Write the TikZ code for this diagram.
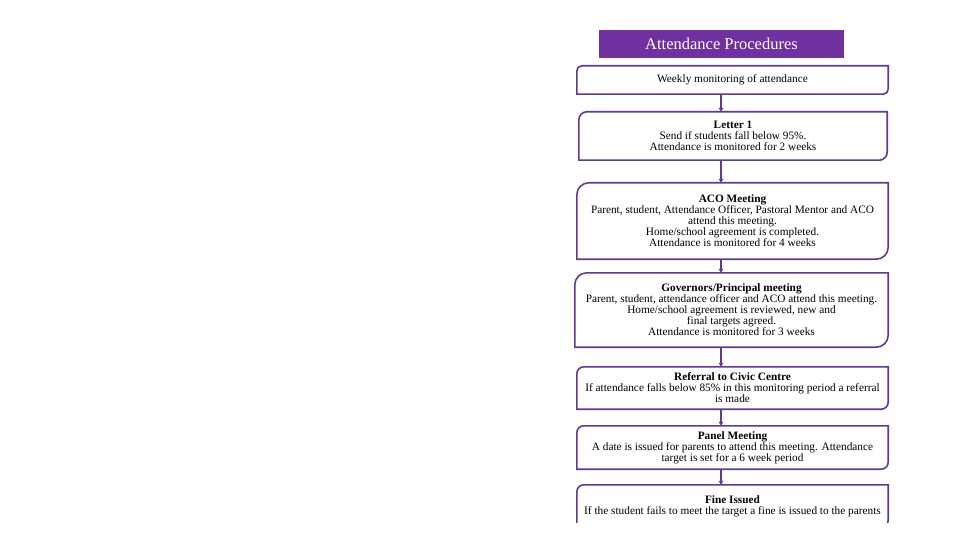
\documentclass[tikz,border=0pt]{standalone}
\usepackage{fontspec}
\setmainfont{Liberation Serif}
\usetikzlibrary{arrows.meta,positioning}
\definecolor{titlePurple}{RGB}{112,48,160}
\definecolor{linePurple}{RGB}{96,58,140}
\newcommand{\drawDiagBox}[2]{
    \draw[boxline] (#1.south west) -- ([yshift=-#2]#1.north west) arc[start angle=180,end angle=90,radius=#2] -- (#1.north east) -- ([yshift=#2]#1.south east) arc[start angle=0,end angle=-90,radius=#2] -- cycle
}

\begin{document}
\begin{tikzpicture}[x=1pt,y=-1pt,
    stepbox/.style={minimum width=311pt, align=center, inner sep=0pt, font=\fontsize{11.3}{11}\selectfont},
    boxline/.style={linePurple, line width=1.6pt},
    arr/.style={linePurple, line width=1.1pt, -{Triangle[length=4pt,width=4.5pt]}}]
            \useasboundingbox (0,0) rectangle (960,540);

            \node[fill=titlePurple, minimum width=245pt, minimum height=28pt, inner sep=0pt, text=white, font=\fontsize{16.5}{18}\selectfont] (title) at (721.5,44) {Attendance Procedures};

            \node[stepbox, minimum height=28pt] (weekly) at (732.5,80) {Weekly monitoring of attendance};
            \node[stepbox, minimum width=308pt, minimum height=48pt] (letter) at (733,136) {\textbf{Letter 1}\\Send if students fall below 95\%.\\Attendance is monitored for 2 weeks};
            \node[stepbox, minimum height=76pt] (aco) at (732.5,221) {\textbf{ACO Meeting}\\Parent, student, Attendance Officer, Pastoral Mentor and ACO\\attend this meeting.\\Home/school agreement is completed.\\Attendance is monitored for 4 weeks};
            \node[stepbox, minimum width=313pt, minimum height=74pt] (governors) at (731.5,310) {\textbf{Governors/Principal meeting}\\Parent, student, attendance officer and ACO attend this meeting.\\Home/school agreement is reviewed, new and\\final targets agreed.\\Attendance is monitored for 3 weeks};
            \node[stepbox, minimum height=42pt] (referral) at (732.5,388) {\textbf{Referral to Civic Centre}\\If attendance falls below 85\% in this monitoring period a referral\\is made};
            \node[stepbox, minimum height=43pt] (panel) at (732.5,447.5) {\textbf{Panel Meeting}\\A date is issued for parents to attend this meeting. Attendance\\target is set for a 6 week period};
            \node[stepbox, minimum height=42pt] (fine) at (732.5,506) {\textbf{Fine Issued}\\If the student fails to meet the target a fine is issued to the parents};

            \drawDiagBox{weekly}{5pt};
            \drawDiagBox{letter}{8pt};
            \drawDiagBox{aco}{12pt};
            \drawDiagBox{governors}{12pt};
            \drawDiagBox{referral}{7pt};
            \drawDiagBox{panel}{7pt};
            \begin{scope}
                \clip (0,0) rectangle (960,522);
                \drawDiagBox{fine}{7pt};
            \end{scope}

            \coordinate (arrowX) at (721,0);
            \draw[arr] (weekly.south -| arrowX) -- (letter.north -| arrowX);
            \draw[arr] (letter.south -| arrowX) -- (aco.north -| arrowX);
            \draw[arr] (aco.south -| arrowX) -- (governors.north -| arrowX);
            \draw[arr] (governors.south -| arrowX) -- (referral.north -| arrowX);
            \draw[arr] (referral.south -| arrowX) -- (panel.north -| arrowX);
            \draw[arr] (panel.south -| arrowX) -- (fine.north -| arrowX);
\end{tikzpicture}
\end{document}
